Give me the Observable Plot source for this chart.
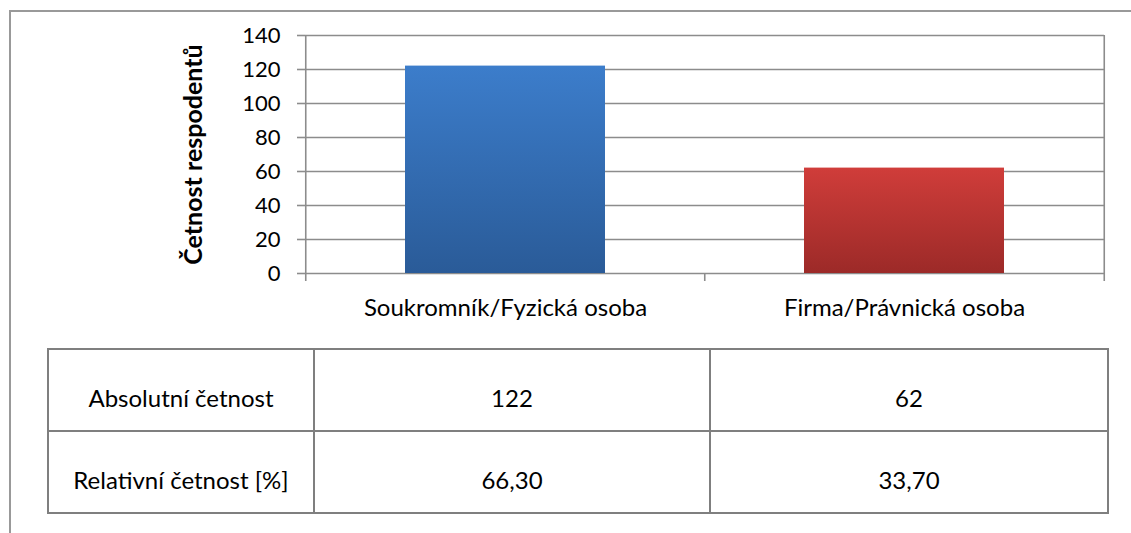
<!DOCTYPE html>
<html>
<head>
<meta charset="utf-8">
<script src="https://cdn.jsdelivr.net/npm/d3@7"></script>
<script src="https://cdn.jsdelivr.net/npm/@observablehq/plot@0.6"></script>
<style>
  html, body { margin: 0; padding: 0; background: #fff; }
  #wrap { position: relative; width: 1131px; height: 533px; overflow: hidden; background: #fff; font-family: Lato, "Open Sans", sans-serif; }
  #outer { position: absolute; left: 9px; top: 10px; width: 1200px; height: 600px; border: 2px solid #999; box-sizing: border-box; }
  #chart { position: absolute; left: 0; top: 0; }
  #tbl { position: absolute; left: 47px; top: 348px; border-collapse: collapse; table-layout: fixed; font-family: Lato, sans-serif; font-size: 24px; color: #000; }
  #tbl td { border: 2px solid #7f7f7f; height: 82px; padding: 0; text-align: center; vertical-align: top; line-height: 24px; box-sizing: border-box; }
  #tbl td div { padding-top: 36px; }
</style>
</head>
<body>
<div id="wrap">
  <div id="outer"></div>
  <div id="chart"></div>
  <table id="tbl"></table>
</div>
<script>
const categories = ["Soukromník/Fyzická osoba", "Firma/Právnická osoba"];
const absolute = [122, 62];
const relative = [66.30, 33.70];
const rowLabels = ["Absolutní četnost", "Relativní četnost [%]"];
const yTicks = [0, 20, 40, 60, 80, 100, 120, 140];
const yLabel = "Četnost respodentů";
const gradients = [["gBlue", "#3c7dcb", "#2a5b98"], ["gRed", "#d03d3a", "#9c2a28"]];

const W = 1131, H = 330, mL = 305, mR = 27, mT = 35, mB = 57;
const step = (W - mL - mR) / categories.length;
const plotH = H - mT - mB;
const data = categories.map((c, i) => ({cat: c, value: absolute[i]}));
const grid = "#8c8c8c";

const chart = Plot.plot({
  width: W, height: H,
  marginLeft: mL, marginRight: mR, marginTop: mT, marginBottom: mB,
  style: {fontFamily: "Lato, sans-serif", fontSize: "22px", color: "#000", background: "transparent", overflow: "visible"},
  x: {domain: categories, paddingInner: 0.5, paddingOuter: 0.25},
  y: {domain: [0, 140]},
  marks: [
    Plot.ruleY(yTicks, {stroke: grid, strokeWidth: 1.6}),
    Plot.barY([data[0]], {x: "cat", y: "value", fill: "url(#gBlue)"}),
    Plot.barY([data[1]], {x: "cat", y: "value", fill: "url(#gRed)"}),
    Plot.ruleX([categories[0]], {x: d => d, dx: -step / 2, stroke: grid, strokeWidth: 1.6, insetBottom: -8}),
    Plot.ruleX([categories[categories.length - 1]], {x: d => d, dx: step / 2, stroke: grid, strokeWidth: 1.6, insetBottom: -8}),
    Plot.ruleX(categories.slice(1), {x: d => d, dx: -step / 2, stroke: grid, strokeWidth: 1.6, insetTop: plotH, insetBottom: -8}),
    Plot.axisY({ticks: yTicks, tickSize: 8, tickPadding: 17, stroke: grid, strokeWidth: 1.6, label: null, fontSize: 22}),
    Plot.axisX({tickSize: 0, tickPadding: 25, label: null, fontSize: 24}),
    Plot.text([yLabel], {frameAnchor: "left", rotate: -90, dx: -112, text: d => d, fontWeight: "bold", fontSize: 25, textAnchor: "middle", lineAnchor: "middle", fill: "#000"})
  ]
});

const ns = "http://www.w3.org/2000/svg";
const defs = document.createElementNS(ns, "defs");
for (const [id, c0, c1] of gradients) {
  const g = document.createElementNS(ns, "linearGradient");
  g.setAttribute("id", id);
  g.setAttribute("x1", "0"); g.setAttribute("y1", "0"); g.setAttribute("x2", "0"); g.setAttribute("y2", "1");
  const s0 = document.createElementNS(ns, "stop"); s0.setAttribute("offset", "0"); s0.setAttribute("stop-color", c0);
  const s1 = document.createElementNS(ns, "stop"); s1.setAttribute("offset", "1"); s1.setAttribute("stop-color", c1);
  g.appendChild(s0); g.appendChild(s1); defs.appendChild(g);
}
chart.insertBefore(defs, chart.firstChild);
document.getElementById("chart").appendChild(chart);

const tbl = document.getElementById("tbl");
const colW = [266, 396, 398];
const cg = document.createElement("colgroup");
colW.forEach(w => { const c = document.createElement("col"); c.style.width = w + "px"; cg.appendChild(c); });
tbl.appendChild(cg);
tbl.style.width = d3.sum(colW) + "px";
const fmt = v => v.toFixed(2).replace(".", ",");
const rows = [[rowLabels[0], ...absolute.map(String)], [rowLabels[1], ...relative.map(fmt)]];
for (const r of rows) {
  const tr = document.createElement("tr");
  for (const v of r) {
    const td = document.createElement("td");
    const dv = document.createElement("div");
    dv.textContent = v;
    td.appendChild(dv);
    tr.appendChild(td);
  }
  tbl.appendChild(tr);
}
</script>
</body>
</html>
